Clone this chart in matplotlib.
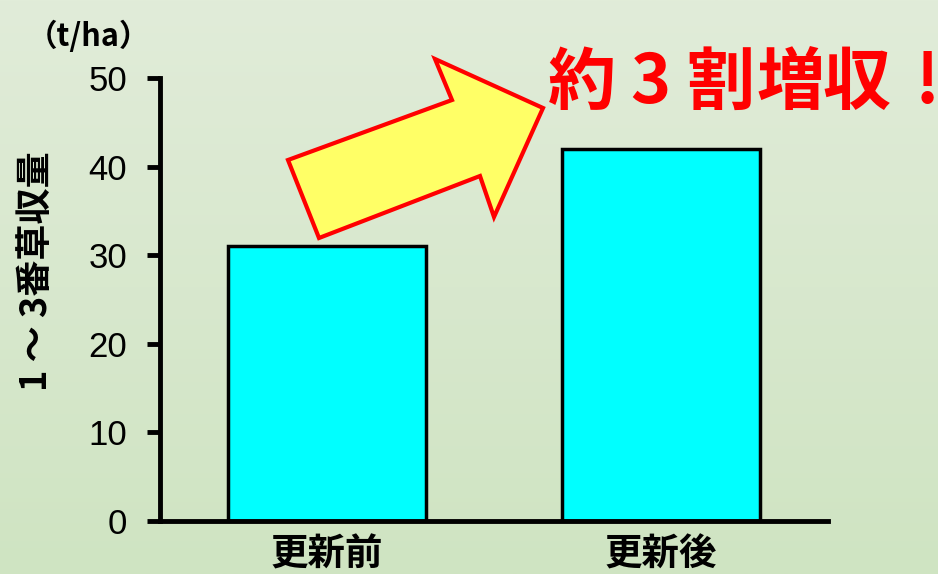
import numpy as np
import matplotlib
matplotlib.use('Agg')
import matplotlib.pyplot as plt
from matplotlib.patches import Polygon
from matplotlib.colors import LinearSegmentedColormap

plt.rcParams['font.family'] = ['Noto Sans CJK JP', 'DejaVu Sans']

categories = ['更新前', '更新後']
yields = [31, 42]
yticks = [0, 10, 20, 30, 40, 50]

W, H = 938, 574
fig = plt.figure(figsize=(W / 100, H / 100), dpi=100)

# light green gradient background
bg = fig.add_axes([0, 0, 1, 1], zorder=-10)
grad = np.linspace(0, 1, 256).reshape(-1, 1)
cmap = LinearSegmentedColormap.from_list('bg', ['#e1ecd9', '#cfe4c2'])
bg.imshow(grad, aspect='auto', cmap=cmap, extent=[0, 1, 0, 1], origin='upper')
bg.axis('off')

ax = fig.add_axes([160 / W, 1 - 521 / H, (828 - 160) / W, (521 - 78) / H])
ax.patch.set_alpha(0)

x = np.arange(len(categories))
ax.bar(x, yields, width=0.59, color='#00ffff', edgecolor='black', linewidth=2.5, zorder=3)

ax.set_xlim(-0.5, 1.5)
ax.set_ylim(0, 50)
ax.set_yticks(yticks)
ax.set_yticklabels([str(v) for v in yticks],
                   family=['Liberation Sans Narrow', 'Liberation Sans'], fontsize=25)
ax.set_xticks(x)
ax.set_xticklabels(categories, fontsize=27, fontweight='bold')
ax.tick_params(axis='x', length=0, pad=10)
ax.tick_params(axis='y', length=9.5, width=3.5, direction='out', pad=14)
for s in ['top', 'right']:
    ax.spines[s].set_visible(False)
ax.spines['left'].set_linewidth(3.5)
ax.spines['bottom'].set_linewidth(3.5)
ax.spines['bottom'].set_zorder(4)

fig.text(36 / W, 1 - 271 / H, '1 ～ 3番草収量', rotation=90, fontsize=26,
         fontweight='bold', ha='center', va='center')
fig.text(88 / W, 1 - 37 / H, '（t/ha）', fontsize=22, fontweight='bold',
         ha='center', va='center')

# arrow
pts = [(288, 160), (452, 100), (435, 59), (543, 108), (494, 217), (480, 176), (319, 238)]
arrow = Polygon([(px / W, 1 - py / H) for px, py in pts], closed=True,
                transform=fig.transFigure, facecolor='#ffff66', edgecolor='#ff0000',
                linewidth=3, zorder=5)
fig.patches.append(arrow)

# headline, spaced like the original slide text
for ch, cx in zip(['約', '3', '割', '増', '収', '!'], [582, 650, 720, 790, 856, 927]):
    fig.text(cx / W, 1 - 84 / H, ch, fontsize=49, fontweight='bold',
             color='#ff0000', ha='center', va='center')

fig.savefig('out.png', dpi=100)
